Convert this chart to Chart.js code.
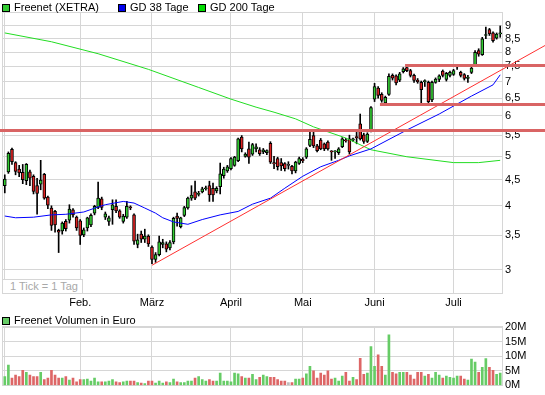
<!DOCTYPE html>
<html>
<head>
<meta charset="utf-8">
<script src="https://cdn.jsdelivr.net/npm/chart.js@4.4.1/dist/chart.umd.min.js"></script>
<style>
  body { margin: 0; background: #fff; }
  #wrap { position: relative; width: 545px; height: 395px; overflow: hidden; font-family: "Liberation Sans", Arial, sans-serif; font-size: 11px; color: #000; }
  canvas { position: absolute; left: 0; }
  .legend-item { position: absolute; white-space: nowrap; line-height: 12px; z-index: 2; }
  .legend-item i { display: inline-block; width: 6px; height: 6px; border: 1px solid #000; margin-right: 4px; vertical-align: -1px; }
  #tickNote { position: absolute; left: 3px; top: 279px; width: 72px; height: 13px; line-height: 13px; border-top: 1px solid #d6d6d6; border-right: 1px solid #d6d6d6; background: #fff; color: #a8a8a8; padding-left: 7px; box-sizing: content-box; z-index: 2; }
</style>
</head>
<body>
<div id="wrap">
  <canvas id="priceChart" width="545" height="310" style="top:0"></canvas>
  <canvas id="volumeChart" width="545" height="85" style="top:310px"></canvas>
  <div class="legend-item" style="left:2px;top:1px"><i style="background:#33cc33"></i>Freenet (XETRA)</div>
  <div class="legend-item" style="left:118px;top:1px"><i style="background:#0000ee"></i>GD 38 Tage</div>
  <div class="legend-item" style="left:198px;top:1px"><i style="background:#00dd00"></i>GD 200 Tage</div>
  <div class="legend-item" style="left:2px;top:314px"><i style="background:#66cc66"></i>Freenet Volumen in Euro</div>
  <div id="tickNote">1 Tick = 1 Tag</div>
</div>
<script>
// Monate und Anzahl Handelstage (Jan. bis 20. Juli)
const monthNames = ['', 'Feb.', 'März', 'April', 'Mai', 'Juni', 'Juli'];
const monthDays = [21, 20, 22, 20, 20, 22, 14];

// Kurse (Euro), ein Wert pro Handelstag
const open = [
  4.38, 4.66, 5.16, 4.86, 4.72, 4.65, 4.48, 4.66, 4.57, 4.38,
  4.41, 4.61, 4.16, 3.96, 3.90, 3.58, 3.57, 3.73, 3.75, 3.93,
  3.80, 3.74, 3.51, 3.62, 3.67, 3.87, 3.97, 4.13, 3.80, 3.73,
  3.93, 3.99, 3.91, 3.73, 3.80, 3.98, 3.84, 3.36, 3.52, 3.44,
  3.49, 3.32, 3.14, 3.21, 3.36, 3.37, 3.31, 3.40, 3.82, 3.64,
  3.83, 3.96, 4.14, 4.26, 4.21, 4.26, 4.32, 4.38, 4.33, 4.28,
  4.36, 4.58, 4.68, 4.73, 4.80, 4.90, 5.45, 5.00, 5.17, 5.05,
  5.17, 5.15, 5.10, 5.08, 5.30, 4.86, 4.95, 4.86, 4.84, 4.80,
  4.78, 4.68, 4.84, 4.93, 4.98, 5.25, 5.49, 5.24, 5.38, 5.29,
  5.33, 5.11, 5.10, 5.08, 5.22, 5.38, 5.41, 5.38, 5.45, 5.79,
  5.51, 5.35, 5.60, 6.47, 6.80, 6.61, 6.36, 6.61, 7.20, 7.19,
  7.05, 7.32, 7.46, 7.36, 7.20, 7.05, 6.98, 7.00, 6.98, 6.45,
  6.98, 7.07, 7.34, 7.07, 7.20, 7.23, 7.48, 7.30, 7.23, 7.10,
  7.30, 7.56, 8.05, 7.91, 8.62, 8.85, 8.72, 8.52, 8.68
];
const high = [
  4.60, 5.10, 5.19, 4.88, 4.80, 4.82, 4.84, 4.70, 4.60, 4.53,
  4.91, 4.63, 4.18, 4.00, 3.92, 3.60, 3.72, 3.76, 4.02, 3.95,
  3.82, 3.76, 3.62, 3.80, 3.86, 4.01, 4.45, 4.16, 3.89, 3.82,
  4.11, 4.11, 3.93, 3.85, 4.08, 4.00, 3.86, 3.52, 3.57, 3.60,
  3.51, 3.34, 3.24, 3.49, 3.44, 3.40, 3.42, 3.80, 3.87, 3.80,
  3.99, 4.16, 4.38, 4.47, 4.27, 4.35, 4.37, 4.47, 4.43, 4.36,
  4.85, 4.76, 4.80, 4.97, 5.00, 5.43, 5.49, 5.08, 5.33, 5.30,
  5.29, 5.20, 5.18, 5.15, 5.34, 5.00, 4.98, 4.95, 4.86, 4.88,
  4.80, 4.89, 4.98, 4.97, 5.20, 5.63, 5.62, 5.28, 5.42, 5.31,
  5.36, 5.13, 5.13, 5.20, 5.44, 5.42, 5.50, 5.43, 5.57, 6.05,
  5.55, 5.56, 6.26, 6.95, 6.85, 6.66, 6.56, 7.25, 7.25, 7.22,
  7.30, 7.46, 7.52, 7.40, 7.24, 7.10, 7.02, 7.06, 7.02, 7.02,
  7.12, 7.22, 7.38, 7.30, 7.34, 7.40, 7.55, 7.34, 7.26, 7.20,
  7.48, 8.05, 8.12, 8.55, 8.95, 8.90, 8.76, 8.72, 9.00
];
const low = [
  4.24, 4.63, 4.82, 4.60, 4.56, 4.42, 4.40, 4.38, 4.22, 3.85,
  4.30, 4.12, 3.95, 3.58, 3.55, 3.24, 3.52, 3.57, 3.70, 3.80,
  3.58, 3.36, 3.48, 3.57, 3.64, 3.84, 3.95, 3.93, 3.76, 3.66,
  3.68, 3.88, 3.78, 3.70, 3.78, 3.93, 3.36, 3.31, 3.39, 3.39,
  3.33, 3.08, 3.10, 3.19, 3.31, 3.25, 3.28, 3.37, 3.65, 3.62,
  3.81, 3.94, 4.10, 4.11, 4.18, 4.24, 4.29, 4.08, 4.08, 4.24,
  4.22, 4.53, 4.65, 4.70, 4.78, 4.88, 5.10, 4.98, 4.84, 5.02,
  5.10, 5.02, 5.06, 5.04, 4.84, 4.73, 4.70, 4.69, 4.68, 4.72,
  4.62, 4.64, 4.82, 4.86, 4.95, 5.22, 5.20, 5.10, 5.15, 5.13,
  5.14, 4.91, 4.95, 5.04, 5.20, 5.33, 5.05, 5.35, 5.29, 5.38,
  5.30, 5.32, 5.58, 6.40, 6.50, 6.38, 6.33, 6.58, 7.05, 6.90,
  7.00, 7.28, 7.32, 7.15, 6.98, 6.95, 6.35, 6.85, 6.33, 6.40,
  6.95, 7.00, 7.15, 7.02, 7.15, 7.20, 7.40, 7.15, 7.05, 6.98,
  7.26, 7.52, 7.85, 7.88, 8.50, 8.62, 8.36, 8.48, 8.55
];
const close = [
  4.51, 5.07, 4.88, 4.67, 4.64, 4.50, 4.82, 4.53, 4.27, 4.23,
  4.49, 4.14, 4.01, 3.66, 3.67, 3.55, 3.70, 3.61, 3.94, 3.84,
  3.62, 3.50, 3.59, 3.79, 3.83, 3.99, 4.14, 3.97, 3.86, 3.79,
  4.02, 3.91, 3.80, 3.82, 3.99, 3.96, 3.41, 3.43, 3.44, 3.49,
  3.37, 3.14, 3.21, 3.40, 3.39, 3.29, 3.39, 3.78, 3.78, 3.79,
  3.97, 4.14, 4.20, 4.14, 4.23, 4.32, 4.34, 4.20, 4.20, 4.33,
  4.62, 4.72, 4.77, 4.95, 4.98, 5.41, 5.17, 5.05, 4.98, 5.27,
  5.22, 5.06, 5.15, 5.13, 4.87, 4.83, 4.77, 4.79, 4.73, 4.80,
  4.68, 4.87, 4.95, 4.90, 5.17, 5.40, 5.24, 5.13, 5.17, 5.17,
  5.17, 5.10, 5.11, 5.17, 5.41, 5.36, 5.10, 5.41, 5.44, 5.41,
  5.35, 5.53, 6.23, 6.85, 6.58, 6.43, 6.52, 7.17, 7.11, 6.96,
  7.25, 7.42, 7.36, 7.20, 7.04, 7.00, 6.75, 7.02, 6.40, 6.98,
  7.08, 7.19, 7.20, 7.27, 7.30, 7.36, 7.50, 7.20, 7.10, 7.15,
  7.44, 7.99, 7.92, 8.49, 8.66, 8.68, 8.42, 8.68, 8.72
];

// Umsatz in Mio. Euro
const volume = [
  3, 7, 2.5, 3.5, 3, 5.2, 4.5, 3.5, 3, 3,
  4.5, 2, 2.5, 5.2, 3.5, 2.5, 2.5, 3, 1.8, 2.5,
  1.2, 2, 2, 2.2, 1.5, 2.5, 1.2, 1.2, 1.2, 1.5,
  2, 1.2, 1, 1.2, 1.5, 1.5, 1.5, 1, 0.8, 0.6,
  1.5, 1.5, 0.8, 1.5, 0.8, 1.2, 1, 2.2, 1.2, 1,
  1, 1.5, 1.5, 2.5, 3, 2, 1.5, 2, 1.5, 1.5,
  4.2, 1.5, 1.5, 1.2, 4.2, 4, 3, 2.5, 2.5, 3.8,
  2, 2.8, 3.5, 3, 2.8, 2.8, 2, 1.5, 1.5, 1,
  1, 2.2, 2.2, 2.5, 4, 6.5, 5, 2.5, 4.2, 3.5,
  5, 2.2, 2.5, 1.5, 3.2, 4.5, 1.5, 2.8, 2, 9.3,
  3.8, 4.2, 13.3, 6.5, 10.5, 6.5, 3.5, 17.3, 4.5, 4,
  4.5, 4.5, 4.5, 3.5, 2.2, 4.5, 4.5, 3.2, 3.8, 2.5,
  4.5, 3.5, 2.5, 3.2, 2.8, 2.5, 3.2, 3.2, 2.2, 1.8,
  9, 8, 4.5, 6.2, 9.2, 6.2, 5.2, 3.8, 4.2
];

const gd38Days = [0, 3, 8, 13, 17, 22, 26, 28, 33, 36, 39, 42, 44, 47, 51, 55, 60, 65, 69, 74, 78, 83, 88, 93, 96, 102, 112, 121, 130, 136, 138];
const gd38 = [3.82, 3.79, 3.80, 3.84, 3.85, 3.89, 3.98, 4.02, 4.08, 4.05, 3.96, 3.87, 3.79, 3.72, 3.68, 3.76, 3.84, 3.90, 4.03, 4.14, 4.33, 4.57, 4.77, 4.91, 5.01, 5.17, 5.63, 6.05, 6.56, 6.90, 7.22];
const gd200Days = [0, 13, 26, 40, 54, 63, 70, 75, 81, 86, 95, 102, 112, 125, 132, 138];
const gd200 = [8.72, 8.38, 7.94, 7.40, 6.82, 6.47, 6.24, 6.10, 5.92, 5.71, 5.43, 5.15, 4.99, 4.86, 4.86, 4.91];

// Trendlinie und Widerstands-/Unterstützungslinien
const trendDays = [41, 138];
const trendValues = [3.06, 7.36];
const supportValues = [5.62, 6.33, 7.54];
const supportFrom = [null, 104.5, 111.5];

const priceTicks = [3, 3.5, 4, 4.5, 5, 5.5, 6, 6.5, 7, 7.5, 8, 8.5, 9];
const volumeTicks = [0, 5, 10, 15, 20];

// Kategorien aufbauen
const labels = [];
const monthStart = {};
monthNames.forEach((m, k) => {
    monthStart[labels.length] = m;
    for (let d = 1; d <= monthDays[k]; d++) labels.push((k + 1) + '/' + d);
});

function sparse(days, values) {
    const arr = labels.map(() => null);
    days.forEach((d, k) => arr[d] = values[k]);
    return arr;
}

const candleColor = open.map((o, i) => close[i] > o ? '#33cc33' : close[i] < o ? '#dd2222' : '#999999');
const volColor = open.map((o, i) => close[i] > o ? '#66cc66' : close[i] < o ? '#dd6666' : '#bbbbbb');

Chart.defaults.font.family = '"Liberation Sans", Arial, sans-serif';
Chart.defaults.font.size = 11;
Chart.defaults.color = '#000';

const gridColor = '#d6d6d6';

function monthAxis(showLabels) {
    return {
        offset: true,
        grid: {
            offset: false,
            drawTicks: false,
            color: (c) => (c.index in monthStart) ? gridColor : 'rgba(0,0,0,0)'
        },
        border: { display: false },
        ticks: {
            display: showLabels,
            autoSkip: false,
            maxRotation: 0,
            padding: 3,
            callback: (v, i) => monthStart[i] || ''
        },
        afterFit: (s) => { s.height = showLabels ? 17 : 0; }
    };
}

// Rahmen um die Zeichenfläche
const frame = {
    id: 'frame',
    beforeDatasetsDraw(chart) {
        const { ctx, chartArea: a } = chart;
        ctx.save();
        ctx.strokeStyle = gridColor;
        ctx.lineWidth = 1;
        ctx.strokeRect(Math.round(a.left) - 0.5, Math.round(a.top) - 0.5, Math.round(a.right - a.left) + 1, Math.round(a.bottom - a.top) + 1);
        ctx.restore();
    }
};

// Trendlinie + horizontale Linien, laufen bis an den rechten Rand
const overlayLines = {
    id: 'overlayLines',
    afterDraw(chart) {
        const { ctx, scales: { x, y } } = chart;
        ctx.save();
        const x1 = x.getPixelForValue(trendDays[0]), y1 = y.getPixelForValue(trendValues[0]);
        const x2 = x.getPixelForValue(trendDays[1]), y2 = y.getPixelForValue(trendValues[1]);
        const slope = (y2 - y1) / (x2 - x1);
        ctx.strokeStyle = '#ff3030';
        ctx.lineWidth = 1;
        ctx.beginPath();
        ctx.moveTo(x1, y1);
        ctx.lineTo(chart.width, y1 + slope * (chart.width - x1));
        ctx.stroke();

        ctx.strokeStyle = '#d96464';
        ctx.lineWidth = 3;
        supportValues.forEach((v, k) => {
            const py = Math.round(y.getPixelForValue(v)) + 0.5;
            const from = supportFrom[k] === null ? 0 : x.getPixelForValue(supportFrom[k]);
            ctx.beginPath();
            ctx.moveTo(from, py);
            ctx.lineTo(chart.width, py);
            ctx.stroke();
        });
        ctx.restore();
    }
};

new Chart(document.getElementById('priceChart'), {
    type: 'bar',
    data: {
        labels: labels,
        datasets: [{
            type: 'line',
            label: 'GD 38 Tage',
            data: sparse(gd38Days, gd38),
            borderColor: '#0000ff',
            borderWidth: 1,
            pointRadius: 0,
            spanGaps: true,
            order: 0
        }, {
            type: 'line',
            label: 'GD 200 Tage',
            data: sparse(gd200Days, gd200),
            borderColor: '#22dd22',
            borderWidth: 1,
            pointRadius: 0,
            spanGaps: true,
            order: 1
        }, {
            label: 'Freenet (XETRA)',
            data: open.map((o, i) => [o, close[i]]),
            backgroundColor: candleColor,
            borderColor: '#000',
            borderWidth: 1,
            borderSkipped: false,
            barThickness: 3,
            minBarLength: 1,
            grouped: false,
            order: 2
        }, {
            label: 'Docht',
            data: low.map((l, i) => [l, high[i]]),
            backgroundColor: '#000',
            barThickness: 1,
            grouped: false,
            order: 3
        }]
    },
    options: {
        responsive: false,
        animation: false,
        devicePixelRatio: 1,
        layout: { padding: { top: 13, left: 3, right: 0, bottom: 0 } },
        plugins: { legend: { display: false }, tooltip: { enabled: false } },
        scales: {
            x: monthAxis(true),
            y: {
                type: 'logarithmic',
                position: 'right',
                min: 2.73,
                max: 9.54,
                afterBuildTicks: (s) => { s.ticks = priceTicks.map(v => ({ value: v })); },
                afterFit: (s) => { s.width = 43; },
                grid: { color: gridColor, drawTicks: false },
                border: { display: false },
                ticks: { autoSkip: false, padding: 3, callback: (v) => String(v).replace('.', ',') }
            }
        }
    },
    plugins: [frame, overlayLines]
});

new Chart(document.getElementById('volumeChart'), {
    type: 'bar',
    data: {
        labels: labels,
        datasets: [{
            label: 'Freenet Volumen in Euro',
            data: volume,
            backgroundColor: volColor,
            barThickness: 2
        }]
    },
    options: {
        responsive: false,
        animation: false,
        devicePixelRatio: 1,
        layout: { padding: { top: 17, left: 3, right: 0, bottom: 9 } },
        plugins: { legend: { display: false }, tooltip: { enabled: false } },
        scales: {
            x: monthAxis(false),
            y: {
                position: 'right',
                min: 0,
                max: 20,
                afterBuildTicks: (s) => { s.ticks = volumeTicks.map(v => ({ value: v })); },
                afterFit: (s) => { s.width = 43; },
                grid: { color: gridColor, drawTicks: false },
                border: { display: false },
                ticks: { autoSkip: false, padding: 3, callback: (v) => v + 'M' }
            }
        }
    },
    plugins: [frame]
});
</script>
</body>
</html>
